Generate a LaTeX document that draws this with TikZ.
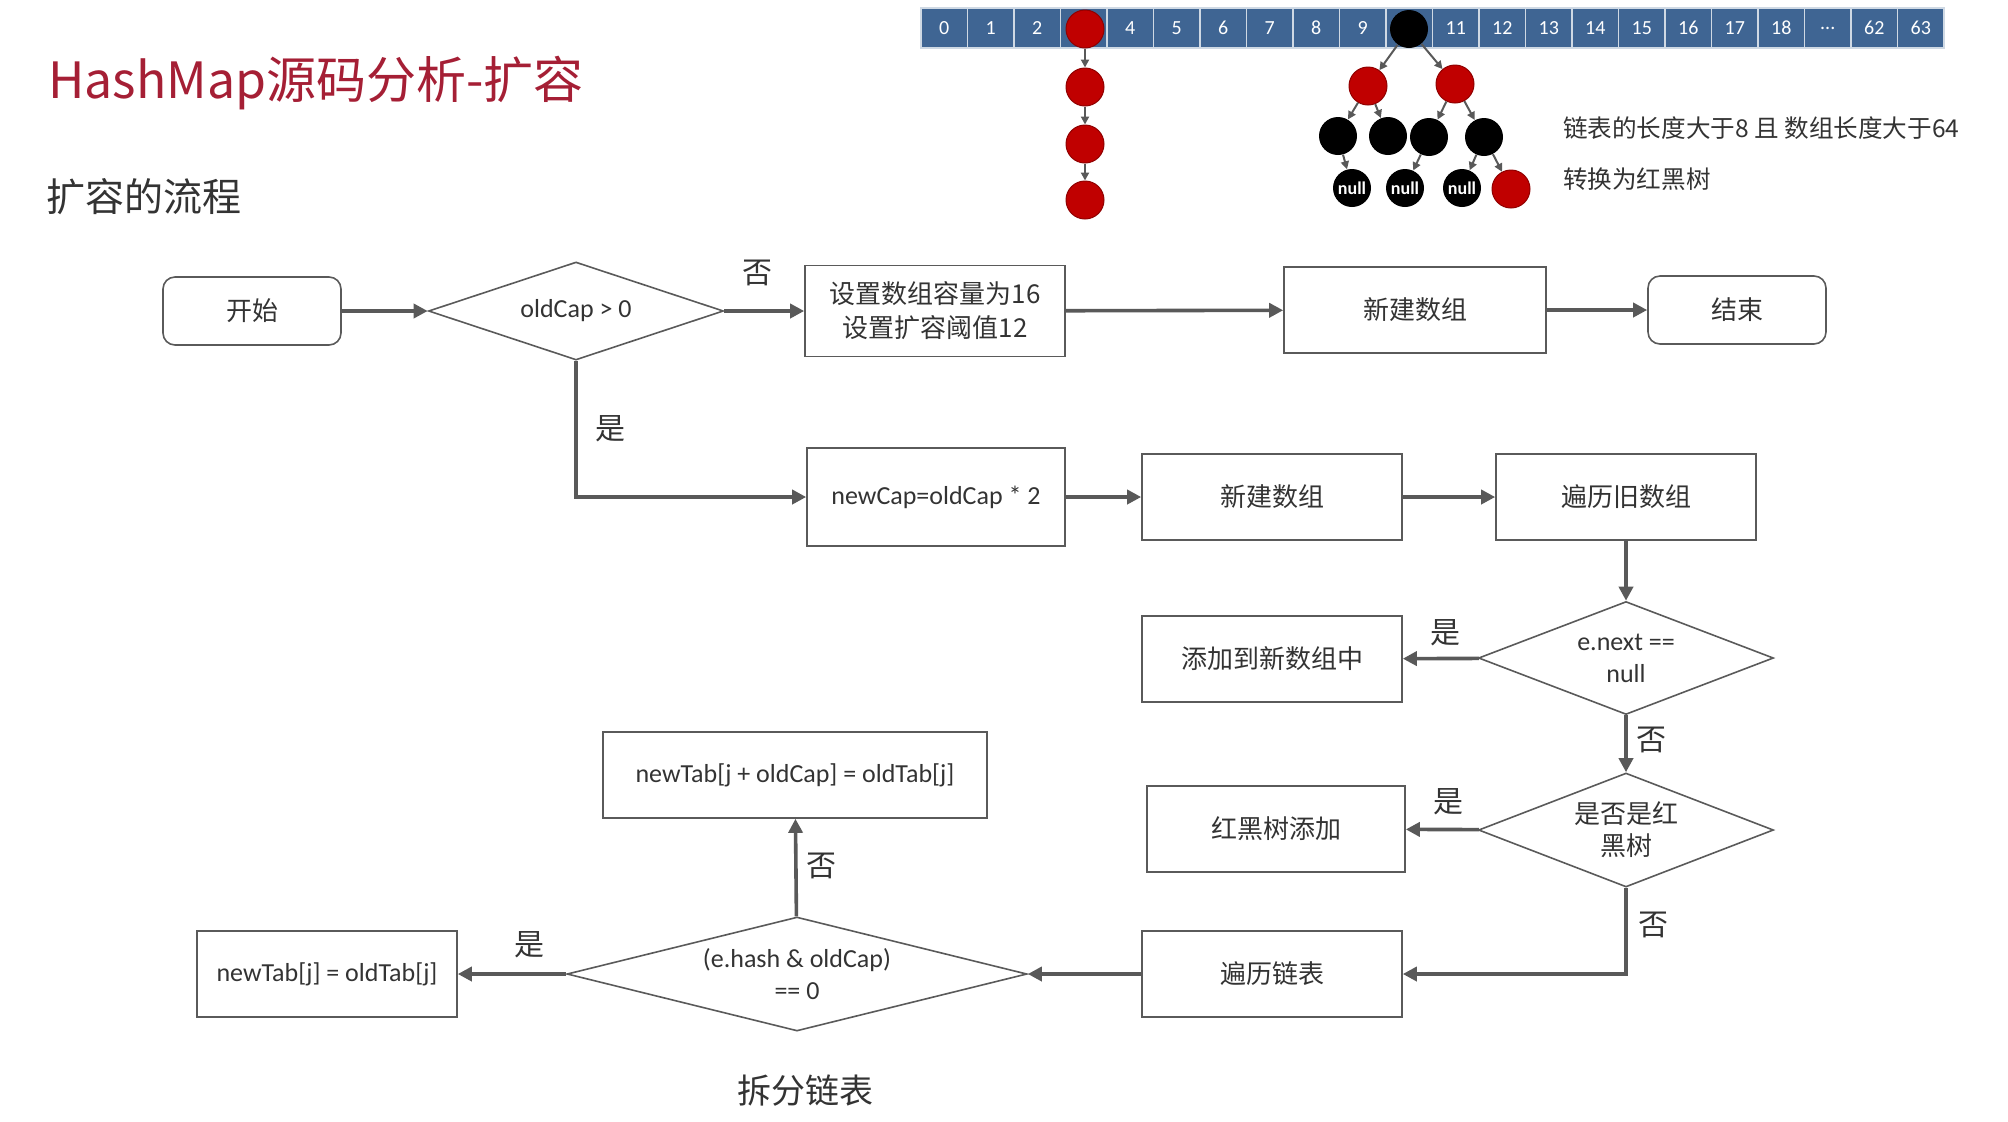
\documentclass[tikz,border=0pt]{standalone}
\usepackage{fontspec}
\setmainfont{Noto Sans CJK SC}
\newfontfamily\latfont{Carlito}
\usetikzlibrary{arrows.meta,shapes.geometric}

\definecolor{titlered}{HTML}{A51F35}
\definecolor{cellblue}{HTML}{3F6593}
\definecolor{nodered}{HTML}{C00000}
\definecolor{linegray}{HTML}{595959}
\definecolor{boxgray}{HTML}{5A5A5A}
\definecolor{textgray}{HTML}{333333}

\newcommand\celldots{...}

\tikzset{
  box/.style={draw=boxgray, line width=0.8pt, text=textgray, align=center,
    minimum width=130pt, minimum height=43pt, font=\fontsize{13}{17}\selectfont},
  codebox/.style={box, font=\latfont\fontsize{13}{17}\selectfont},
  endbox/.style={box, rounded corners=6pt, minimum width=89pt, minimum height=34pt},
  decision/.style={draw=boxgray, line width=0.8pt, diamond, inner sep=0pt, aspect=2.6,
    text=textgray, align=center, font=\fontsize{12}{15}\selectfont},
  codedecision/.style={decision, font=\latfont\fontsize{13}{16}\selectfont},
  flow/.style={draw=linegray, line width=1.8pt, -{Triangle[length=7pt,width=7pt]}},
  answer/.style={text=textgray, font=\fontsize{15}{18}\selectfont},
  cell/.style={fill=cellblue, draw=white!75!cellblue, line width=0.7pt},
  rbnode/.style={circle, minimum size=19pt, inner sep=0pt},
  rednode/.style={rbnode, fill=nodered, draw=nodered!75!black, line width=0.5pt},
  blacknode/.style={rbnode, fill=black},
  nullnode/.style={blacknode, text=white, font=\latfont\bfseries\fontsize{9}{10}\selectfont},
  link/.style={draw=linegray, line width=1pt, -{Triangle[length=4pt,width=4pt]}},
}

\begin{document}
\begin{tikzpicture}[x=0.5pt, y=-0.5pt]
	\useasboundingbox (0,0) rectangle (2008,1121);

	% headings
	\node[anchor=west, inner sep=0pt, text=titlered, font=\fontsize{25}{30}\selectfont] (title) at (48,83) {HashMap源码分析-扩容};
	\node[anchor=west, inner sep=0pt, text=textgray, font=\fontsize{19.5}{24}\selectfont] (subtitle) at (46,197) {扩容的流程};

	% array
	\foreach \i/\lab in {0/0,1/1,2/2,3/{},4/4,5/5,6/6,7/7,8/8,9/9,10/{},11/11,12/12,13/13,14/14,15/15,16/16,17/17,18/18,19/\celldots,20/62,21/63}
	{
		\draw[cell] ({921+46.5*\i},8) rectangle ++(46.5,40);
		\node[text=white, font=\latfont\fontsize{10}{12}\selectfont] (a\i) at ({944.25+46.5*\i},28) {\lab};
	}

	% linked list
	\node[rednode] (c0) at (1085,29) {};
	\node[rednode] (c1) at (1085,87) {};
	\node[rednode] (c2) at (1085,144) {};
	\node[rednode] (c3) at (1085,200) {};
	\draw[link] (c0) -- (c1);
	\draw[link] (c1) -- (c2);
	\draw[link] (c2) -- (c3);

	% red-black tree
	\node[blacknode] (t0) at (1409,29) {};
	\node[rednode] (t1a) at (1368,86) {};
	\node[rednode] (t1b) at (1455,84) {};
	\node[blacknode] (t2a) at (1338,136) {};
	\node[blacknode] (t2b) at (1388,136) {};
	\node[blacknode] (t2c) at (1429,137) {};
	\node[blacknode] (t2d) at (1484,137) {};
	\node[nullnode] (n1) at (1352,188) {null};
	\node[nullnode] (n2) at (1405,188) {null};
	\node[nullnode] (n3) at (1462,188) {null};
	\node[rednode] (t3) at (1511,189) {};
	\draw[link] (t0) -- (t1a);
	\draw[link] (t0) -- (t1b);
	\draw[link] (t1a) -- (t2a);
	\draw[link] (t1a) -- (t2b);
	\draw[link] (t1b) -- (t2c);
	\draw[link] (t1b) -- (t2d);
	\draw[link] (t2a) -- (n1);
	\draw[link] (t2c) -- (n2);
	\draw[link] (t2d) -- (n3);
	\draw[link] (t2d) -- (t3);

	\node[anchor=west, text=textgray, font=\fontsize{12.3}{15}\selectfont] (note1) at (1556,128) {链表的长度大于8 且 数组长度大于64};
	\node[anchor=west, text=textgray, font=\fontsize{12.3}{15}\selectfont] (note2) at (1556,179) {转换为红黑树};

	% flow chart
	\node[endbox] (start) at (252,311) {开始};
	\node[codedecision, aspect=3, minimum width=147.5pt, minimum height=49pt] (chk) at (576,311) {oldCap > 0};
	\node[box, minimum height=45.5pt] (init) at (935,311) {设置数组容量为16\\设置扩容阈值12};
	\node[box, minimum width=131pt] (newarr1) at (1415,310) {新建数组};
	\node[endbox] (finish) at (1737,310) {结束};

	\node[codebox, minimum width=129pt, minimum height=49pt] (dbl) at (936,497) {newCap=oldCap * 2};
	\node[box] (newarr2) at (1272,497) {新建数组};
	\node[box] (walkold) at (1626,497) {遍历旧数组};

	\node[codedecision, minimum width=147.5pt, minimum height=56.5pt] (nxt) at (1626,658) {e.next ==\\null};
	\node[box] (addnew) at (1272,659) {添加到新数组中};
	\node[decision, font=\fontsize{13}{16}\selectfont, minimum width=147.5pt, minimum height=57pt] (istree) at (1626,830) {是否是红\\黑树};
	\node[box, minimum width=129pt] (treeadd) at (1276,829) {红黑树添加};
	\node[box] (walklist) at (1272,974) {遍历链表};

	\node[codedecision, aspect=4, minimum width=230pt, minimum height=57pt] (split) at (797,974) {(e.hash \& oldCap)\\== 0};
	\node[codebox, minimum width=192pt] (hi) at (795,775) {newTab[j + oldCap] = oldTab[j]};
	\node[codebox] (lo) at (327,974) {newTab[j] = oldTab[j]};

	\draw[flow] (start) -- (chk);
	\draw[flow] (chk) -- (init);
	\draw[flow] (init) -- (newarr1);
	\draw[flow] (newarr1) -- (finish);
	\draw[flow] (chk.south) |- (dbl.west);
	\draw[flow] (dbl) -- (newarr2);
	\draw[flow] (newarr2) -- (walkold);
	\draw[flow] (walkold) -- (nxt);
	\draw[flow] (nxt) -- (addnew);
	\draw[flow] (nxt) -- (istree);
	\draw[flow] (istree) -- (treeadd);
	\draw[flow] (istree.south) |- (walklist.east);
	\draw[flow] (walklist) -- (split);
	\draw[flow] (split) -- (lo);
	\draw[flow] (split) -- (hi);

	% yes / no
	\node[answer] (no1) at (757,273) {否};
	\node[answer] (yes1) at (610,429) {是};
	\node[answer] (yes2) at (1445,633) {是};
	\node[answer] (no2) at (1651,740) {否};
	\node[answer] (yes3) at (1448,802) {是};
	\node[answer] (no3) at (1653,925) {否};
	\node[answer] (no4) at (821,866) {否};
	\node[answer] (yes4) at (529,945) {是};

	\node[text=textgray, font=\fontsize{17}{20}\selectfont] (splitnote) at (805,1091) {拆分链表};
\end{tikzpicture}
\end{document}
